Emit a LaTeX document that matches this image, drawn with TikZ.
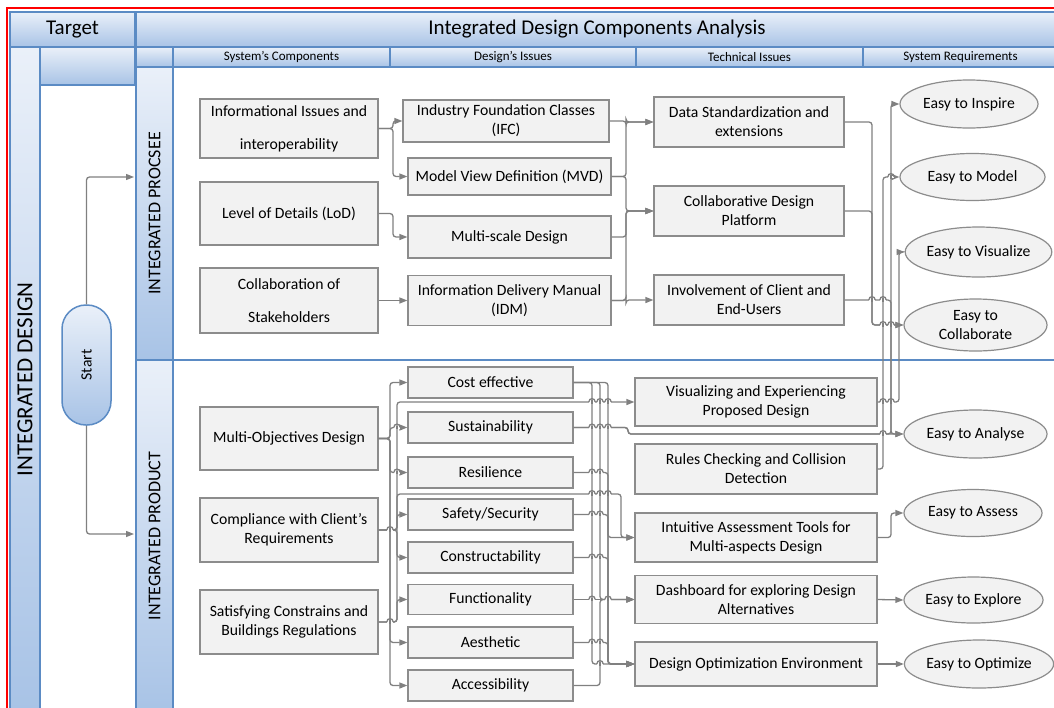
\documentclass[tikz,border=0pt]{standalone}
\usepackage{fontspec}
\setmainfont{Carlito}
\usetikzlibrary{arrows.meta,shapes.geometric}
\definecolor{frame}{HTML}{5B8BC4}
\definecolor{htop}{HTML}{EAF0F9}
\definecolor{hbot}{HTML}{A8C3E6}
\definecolor{boxfill}{HTML}{F2F2F2}
\definecolor{boxline}{HTML}{8C8C8C}
\definecolor{lc}{HTML}{808080}
\tikzset{
  hdr/.style={draw=frame, line width=1.5pt, top color=htop, bottom color=hbot, inner sep=0pt, anchor=center},
  box/.style={draw=boxline, fill=boxfill, line width=1.2pt, align=center, inner sep=0pt, font=\fontsize{15.7}{19}\selectfont},
  req/.style={ellipse, draw=boxline, fill=boxfill, line width=1.2pt, align=center, inner sep=0pt, font=\fontsize{15.7}{19}\selectfont},
  conn/.style={draw=lc, line width=1.3pt, rounded corners=3pt, -{Triangle[length=8pt,width=6pt]}},
  wire/.style={draw=lc, line width=1.3pt},
}
\newcommand\hopover[2]{%
  \fill[white] (#1-3.2,#2-1.3) rectangle (#1+3.2,#2+1.3);
  \draw[wire] (#1,#2-1.8) -- (#1,#2+1.8);
  \draw[wire] (#1-3.2,#2) .. controls (#1-3.2,#2-4.5) and (#1+3.2,#2-4.5) .. (#1+3.2,#2);}
\begin{document}
\begin{tikzpicture}[x=1pt,y=-1pt]
\useasboundingbox (0,0) rectangle (1054,707);
\fill[white] (0,0) rectangle (1054,707);
% red frame
\draw[red, line width=2pt] (7,8) rectangle (1066,716);
% pool frame
\draw[frame, line width=1.5pt] (10,12) rectangle (1060,714);
% headers
\node[hdr, minimum width=125pt, minimum height=35pt, font=\fontsize{21}{24}\selectfont] (target) at (72.5,29.5) {Target};
\node[hdr, minimum width=922pt, minimum height=35pt, font=\fontsize{21}{24}\selectfont] (mainhdr) at (597,29.5) {Integrated Design Components Analysis};
\node[hdr, rotate=90, minimum width=665pt, minimum height=30pt, font=\fontsize{23}{26}\selectfont] (dbar) at (25,379.5) {INTEGRATED DESIGN};
\node[hdr, minimum width=95pt, minimum height=38pt] (tcol) at (87.5,66) {};
\node[hdr, line width=1.2pt, minimum width=37pt, minimum height=20pt] (sub0) at (154.5,57) {};
\node[hdr, line width=1.2pt, minimum width=217pt, minimum height=20pt, font=\fontsize{13}{15}\selectfont] (sub1) at (281.5,57) {System’s Components};
\node[hdr, line width=1.2pt, minimum width=246pt, minimum height=20pt, font=\fontsize{13}{15}\selectfont] (sub2) at (513,57) {Design’s Issues};
\node[hdr, line width=1.2pt, minimum width=227pt, minimum height=20pt, font=\fontsize{13}{15}\selectfont] (sub3) at (749.5,57) {Technical Issues};
\node[hdr, line width=1.2pt, minimum width=195pt, minimum height=20pt, font=\fontsize{13}{15}\selectfont] (sub4) at (960.5,57) {System Requirements};
\node[hdr, rotate=90, minimum width=293pt, minimum height=37pt, font=\fontsize{18}{21}\selectfont] (lane1) at (154.5,213.5) {INTEGRATED PROCSEE};
\node[hdr, rotate=90, minimum width=352pt, minimum height=37pt, font=\fontsize{18}{21}\selectfont] (lane2) at (154.5,536) {INTEGRATED PRODUCT};
\coordinate (sepL) at (173,360);
\coordinate (sepR) at (1060,360);
\draw[frame, line width=1.2pt] (sepL) -- (sepR);
% start
\node[hdr, rotate=90, rounded corners=24pt, minimum width=120pt, minimum height=49pt, font=\fontsize{15.7}{19}\selectfont] (start) at (86.5,365) {Start};
\coordinate (s1) at (134,177);
\coordinate (s2) at (134,534);
\draw[conn] (start.east) |- (s1);
\draw[conn] (start.west) |- (s2);
% process lane boxes
\node[box, minimum width=178pt, minimum height=59pt] (info) at (289,128.5) {Informational Issues and\\[14pt]interoperability};
\node[box, minimum width=178pt, minimum height=63pt] (lod) at (289,213.5) {Level of Details (LoD)};
\node[box, minimum width=178pt, minimum height=65pt] (stake) at (289,300.5) {Collaboration of\\[14pt]Stakeholders};
\node[box, minimum width=206pt, minimum height=42pt] (ifc) at (506,121) {Industry Foundation Classes\\(IFC)};
\node[box, minimum width=203pt, minimum height=37pt] (mvd) at (509.5,176.5) {Model View Definition (MVD)};
\node[box, minimum width=203pt, minimum height=42pt] (ms) at (509.5,237) {Multi-scale Design};
\node[box, minimum width=203pt, minimum height=50pt] (idm) at (509.5,300.5) {Information Delivery Manual\\(IDM)};
\node[box, minimum width=190pt, minimum height=50pt] (dstd) at (749,122) {Data Standardization and\\extensions};
\node[box, minimum width=190pt, minimum height=50pt] (cdp) at (749,211) {Collaborative Design\\Platform};
\node[box, minimum width=190pt, minimum height=50pt] (inv) at (749,300) {Involvement of Client and\\End-Users};
% requirements
\node[req, minimum width=138pt, minimum height=48pt] (einsp) at (969,104) {Easy to Inspire};
\node[req, minimum width=145pt, minimum height=47pt] (emod) at (972.5,177) {Easy to Model};
\node[req, minimum width=143pt, minimum height=50pt] (evis) at (978.5,252) {Easy to Visualize};
\node[req, minimum width=143pt, minimum height=52pt] (ecol) at (975.5,325) {Easy to\\Collaborate};
\node[req, minimum width=143pt, minimum height=48pt] (ean) at (975.5,434) {Easy to Analyse};
\node[req, minimum width=138pt, minimum height=47pt] (eass) at (973,513) {Easy to Assess};
\node[req, minimum width=139pt, minimum height=46pt] (eexp) at (973.5,600) {Easy to Explore};
\node[req, minimum width=138pt, minimum height=48pt] (eopt) at (979,664) {Easy to Optimize};
% product lane boxes
\node[box, minimum width=178pt, minimum height=63pt] (multi) at (289,438.5) {Multi-Objectives Design};
\node[box, minimum width=178pt, minimum height=64pt] (compl) at (289,530) {Compliance with Client’s\\Requirements};
\node[box, minimum width=178pt, minimum height=64pt] (satis) at (289,622) {Satisfying Constrains and\\Buildings Regulations};
\node[box, minimum width=165pt, minimum height=31pt] (cost) at (490.5,382.5) {Cost effective};
\node[box, minimum width=165pt, minimum height=31pt] (sust) at (490.5,427.5) {Sustainability};
\node[box, minimum width=165pt, minimum height=31pt] (resil) at (490.5,472.5) {Resilience};
\node[box, minimum width=165pt, minimum height=31pt] (safety) at (490.5,514.5) {Safety/Security};
\node[box, minimum width=165pt, minimum height=31pt] (constr) at (490.5,557.5) {Constructability};
\node[box, minimum width=165pt, minimum height=30pt] (func) at (490.5,599.5) {Functionality};
\node[box, minimum width=165pt, minimum height=31pt] (aesth) at (490.5,642.5) {Aesthetic};
\node[box, minimum width=165pt, minimum height=31pt] (access) at (490.5,685.5) {Accessibility};
\node[box, minimum width=242pt, minimum height=48pt] (visexp) at (756,402) {Visualizing and Experiencing\\Proposed Design};
\node[box, minimum width=242pt, minimum height=50pt] (rules) at (756,469) {Rules Checking and Collision\\Detection};
\node[box, minimum width=242pt, minimum height=49pt] (intuit) at (756,537.5) {Intuitive Assessment Tools for\\Multi-aspects Design};
\node[box, minimum width=242pt, minimum height=48pt] (dash) at (756,599.5) {Dashboard for exploring Design\\Alternatives};
\node[box, minimum width=242pt, minimum height=44pt] (optim) at (756,664) {Design Optimization Environment};
% bus positions
\coordinate (pA) at (393,0);
\coordinate (pB) at (626,0);
\coordinate (pC) at (872,0);
\coordinate (pD) at (883,0);
\coordinate (pE) at (891,0);
\coordinate (pF) at (899,0);
\coordinate (qA) at (390,0);
\coordinate (qB) at (397,0);
\coordinate (qC) at (592,0);
\coordinate (qD) at (600,0);
\coordinate (qE) at (608,0);
\coordinate (qF) at (621,0);
\coordinate (qG) at (628,0);
\coordinate (yC) at (0,494);
% process connectors
\draw[conn] (info.east) -- (info.east -| pA) |- (ifc.west);
\draw[conn] (info.east) -- (info.east -| pA) |- (mvd.west);
\draw[conn] (lod.east) -- (lod.east -| pA) |- (ms.west);
\draw[conn] (stake.east) -- (idm.west);
\draw[conn] (ifc.east) -- (ifc.east -| pB) |- (dstd.west);
\draw[conn] (mvd.east) -- (mvd.east -| pB) |- (dstd.west);
\draw[conn] (mvd.east) -- (mvd.east -| pB) |- (cdp.west);
\draw[conn] (ms.east) -- (ms.east -| pB) |- (cdp.west);
\draw[conn] (idm.east) -- (idm.east -| pB) |- (cdp.west);
\draw[conn] (idm.east) -- (idm.east -| pB) |- (inv.west);
\draw[conn] (dstd.east) -- (dstd.east -| pC) |- (ecol.west);
\draw[conn] (cdp.east) -- (cdp.east -| pC) |- (ecol.west);
\draw[conn] (inv.east) -- (inv.east -| pE) |- (ean.west);
\draw[conn] (visexp.east) -- (visexp.east -| pF) |- (evis.west);
\draw[conn] (rules.east) -- (rules.east -| pD) |- (emod.west);
\draw[conn] (sust.east) -- (sust.east -| qG) |- (ean.west);
\draw[conn] (sust.east) -- (sust.east -| qG) |- (ean.west -| pE) |- (einsp.west);
% product left fan
\draw[conn] (multi.east) -- (multi.east -| qA) |- (cost.west);
\draw[conn] (multi.east) -- (multi.east -| qA) |- (sust.west);
\draw[conn] (multi.east) -- (multi.east -| qA) |- (resil.west);
\draw[conn] (multi.east) -- (multi.east -| qA) |- (aesth.west);
\draw[conn] (multi.east) -- (multi.east -| qA) |- (access.west);
\draw[conn] (compl.east) -- (compl.east -| qB) |- (safety.west);
\draw[conn] (compl.east) -- (compl.east -| qB) |- (constr.west);
\draw[conn] (compl.east) -- (compl.east -| qB) |- (yC -| qF) |- (intuit.west);
\draw[conn] (satis.east) -- (satis.east -| qB) |- (func.west);
\draw[conn] (satis.east) -- (satis.east -| qB) |- (visexp.west);
% product right buses
\draw[conn] (cost.east) -- (cost.east -| qC) |- (optim.west);
\draw[conn] (cost.east) -- (cost.east -| qD) |- (dash.west);
\draw[conn] (cost.east) -- (cost.east -| qE) |- (intuit.west);
\draw[conn] (resil.east) -- (resil.east -| qE) |- (optim.west);
\draw[conn] (safety.east) -- (safety.east -| qE) |- (optim.west);
\draw[conn] (constr.east) -- (constr.east -| qE) |- (optim.west);
\draw[conn] (aesth.east) -- (aesth.east -| qE) |- (optim.west);
\draw[conn] (func.east) -- (dash.west);
\draw[conn] (access.east) -- (access.east -| qD) |- (dash.west);
\draw[conn] (intuit.east) -- (intuit.east -| pE) |- (eass.west);
\draw[conn] (dash.east) -- (eexp.west);
\draw[conn] (optim.east) -- (eopt.west);
% line jumps
\hopover{872}{300}\hopover{883}{300}
\hopover{883}{325}\hopover{891}{325}
\hopover{891}{177}
\hopover{883}{402}\hopover{891}{402}
\hopover{883}{434}
\hopover{592}{427.5}\hopover{600}{427.5}\hopover{608}{427.5}
\hopover{592}{402}\hopover{600}{402}\hopover{608}{402}
\hopover{592}{494}\hopover{600}{494}\hopover{608}{494}
\hopover{592}{472.5}\hopover{600}{472.5}
\hopover{592}{514.5}\hopover{600}{514.5}
\hopover{592}{557.5}\hopover{600}{557.5}
\hopover{592}{642.5}\hopover{600}{642.5}
\hopover{592}{599.5}\hopover{608}{599.5}
\hopover{600}{664}
\hopover{397}{472.5}\hopover{397}{427.5}
\hopover{390}{530}\hopover{390}{622}
\end{tikzpicture}
\end{document}
